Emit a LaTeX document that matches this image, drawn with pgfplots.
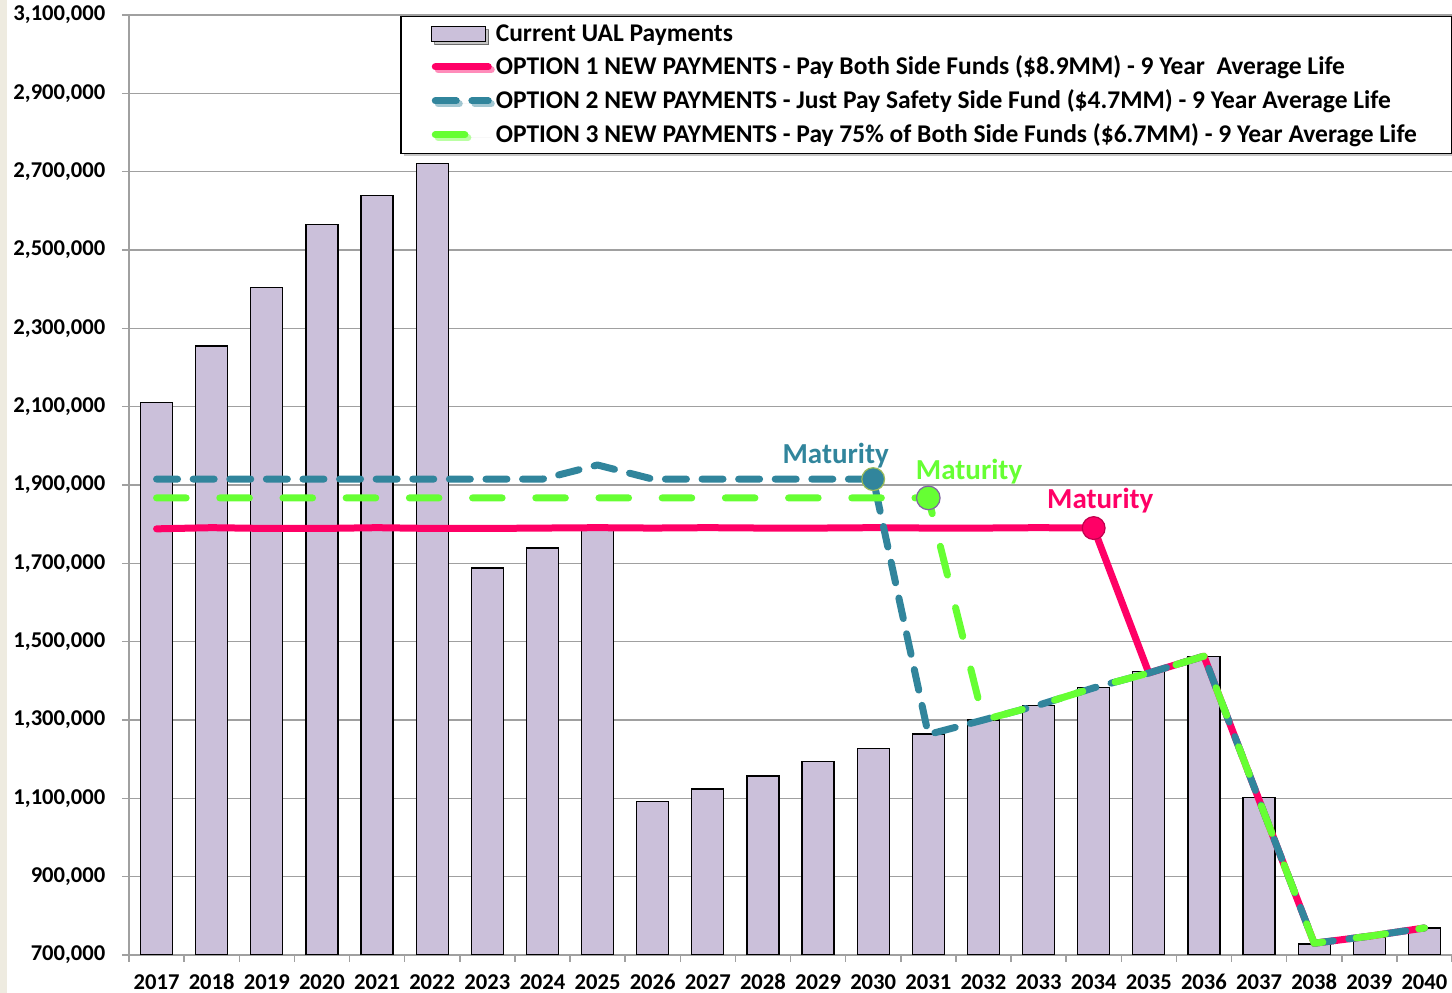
\documentclass[border=0pt]{standalone}
\usepackage{pgfplots}
\pgfplotsset{compat=1.18}
\usepackage{pgfplotstable}
\usepackage{fontspec}
\setmainfont{Carlito}
\usetikzlibrary{shadows}

\definecolor{barfill}{HTML}{CBC0DA}
\definecolor{optred}{HTML}{FF0066}
\definecolor{optblue}{HTML}{31859C}
\definecolor{optgreen}{HTML}{66FF33}
\definecolor{gridgray}{HTML}{A0A0A0}
\definecolor{slidebg}{HTML}{EEEBE0}
\definecolor{mkolive}{HTML}{9BBB59}
\definecolor{mkpurple}{HTML}{8064A2}
\definecolor{mkred}{HTML}{C0004D}

\pgfplotsset{
  mybarlegend/.style={legend image code/.code={\draw[##1] (4.5pt,-3.75pt) rectangle (31.5pt,3.75pt);}},
  mylinelegend/.style={legend image code/.code={\draw[##1] (6.25pt,0pt) -- (32.75pt,0pt);}},
}

\pgfplotstableread{
x bar opt1 opt2 opt3
0 2110000 1788000 1915000 1867000
1 2255000 1791000 1915000 1867000
2 2405000 1789000 1915000 1867000
3 2565000 1789000 1915000 1867000
4 2640000 1791000 1915000 1867000
5 2720000 1789000 1915000 1867000
6 1688000 1789000 1915000 1867000
7 1739000 1790000 1915000 1867000
8 1790000 1791000 1951000 1867000
9 1091000 1790000 1915000 1867000
10 1124000 1791000 1915000 1867000
11 1157000 1790000 1915000 1867000
12 1193000 1790000 1915000 1867000
13 1228000 1791000 1915000 1867000
14 1264000 1790000 1263000 1867000
15 1300000 1790000 1300000 1300000
16 1338000 1791000 1338000 1338000
17 1382000 1790000 1382000 1382000
18 1423000 1420000 1420000 1420000
19 1463000 1463000 1463000 1463000
20 1103000 1096000 1096000 1096000
21 728000 730000 730000 730000
22 746000 748000 748000 748000
23 769000 769000 769000 769000
}\datatable

\begin{document}
\begin{tikzpicture}
\begin{axis}[
  scale only axis, width=661.5pt, height=470pt,
  xmin=-0.5, xmax=23.5, ymin=700000, ymax=3100000,
  axis x line*=bottom, axis y line*=left,
  axis line style={-, draw=gridgray, line width=0.75pt},
  tick align=outside, major tick length=3.5pt,
  tick style={draw=gridgray, line width=0.75pt},
  xtick={-0.5,0.5,1.5,2.5,3.5,4.5,5.5,6.5,7.5,8.5,9.5,10.5,11.5,12.5,13.5,14.5,15.5,16.5,17.5,18.5,19.5,20.5,21.5,22.5,23.5},
  xticklabels={2017,2018,2019,2020,2021,2022,2023,2024,2025,2026,2027,2028,2029,2030,2031,2032,2033,2034,2035,2036,2037,2038,2039,2040,{}},
  xticklabel style={xshift=13.78pt, yshift=-2.8pt, text height=7.6pt, text depth=0pt},
  ytick={700000,900000,1100000,1300000,1500000,1700000,1900000,2100000,2300000,2500000,2700000,2900000,3100000},
  scaled y ticks=false,
  yticklabel style={/pgf/number format/fixed, /pgf/number format/precision=0, /pgf/number format/1000 sep={,}, xshift=-4.8pt},
  /pgf/number format/assume math mode=true,
  ticklabel style={font=\bfseries\fontsize{11.3pt}{13pt}\selectfont, text=black},
  ymajorgrids, major grid style={draw=gridgray, line width=0.75pt},
  legend cell align=left,
  legend style={at={(rel axis cs:1,0.999)}, anchor=north east, draw=black, line width=0.75pt, fill=white,
    font=\bfseries\fontsize{12.75pt}{15pt}\selectfont, row sep=2pt, inner xsep=15.2pt, inner ysep=1.8pt,
    drop shadow={shadow xshift=1.5pt, shadow yshift=-1.5pt, opacity=0.45}},
]
\addplot[ybar, bar width=16pt, fill=barfill, draw=black, line width=0.6pt, mybarlegend]
  table[x=x, y=bar]{\datatable};
\addlegendentry{Current UAL Payments}
\addplot[optred, line width=3.5pt, line join=round, line cap=round, no markers, mylinelegend]
  table[x=x, y=opt1]{\datatable};
\addlegendentry{OPTION 1 NEW PAYMENTS - Pay Both Side Funds (\$8.9MM) - 9 Year\ \ Average Life}
\addplot[optblue, line width=3.5pt, line join=round, line cap=round, no markers, dash pattern=on 10.5pt off 7.8pt, mylinelegend]
  table[x=x, y=opt2]{\datatable};
\addlegendentry{OPTION 2 NEW PAYMENTS - Just Pay Safety Side Fund (\$4.7MM) - 9 Year Average Life}
\addplot[optgreen, line width=3.5pt, line join=round, line cap=round, no markers, dash pattern=on 14.8pt off 16.8pt, mylinelegend]
  table[x=x, y=opt3]{\datatable};
\addlegendentry{OPTION 3 NEW PAYMENTS - Pay 75\% of Both Side Funds (\$6.7MM) - 9 Year Average Life}
\addplot[only marks, mark=*, mark size=5.7pt, mark options={fill=optblue, draw=mkolive, line width=0.6pt, solid}, forget plot]
  coordinates {(13,1915000)};
\addplot[only marks, mark=*, mark size=5.9pt, mark options={fill=optgreen, draw=mkpurple, line width=0.6pt, solid}, forget plot]
  coordinates {(14,1867000)};
\addplot[only marks, mark=*, mark size=5.7pt, mark options={fill=optred, draw=mkred, line width=0.6pt, solid}, forget plot]
  coordinates {(17,1790000)};
\node[text=optblue, font=\bfseries\fontsize{14.5pt}{17pt}\selectfont, anchor=base, inner sep=0pt] at (axis cs:12.32,1953600) {Maturity};
\node[text=optgreen, font=\bfseries\fontsize{14.5pt}{17pt}\selectfont, anchor=base, inner sep=0pt] at (axis cs:14.74,1912800) {Maturity};
\node[text=optred, font=\bfseries\fontsize{14.5pt}{17pt}\selectfont, anchor=base, inner sep=0pt] at (axis cs:17.12,1841000) {Maturity};
\end{axis}
\fill[slidebg] ([xshift=-64.5pt,yshift=-19pt]current axis.south west) rectangle ([xshift=-61pt,yshift=7.5pt]current axis.north west);
\pgfresetboundingbox
\path ([xshift=-64.5pt,yshift=-19pt]current axis.south west) rectangle ([yshift=7.5pt]current axis.north east);
\end{tikzpicture}
\end{document}
